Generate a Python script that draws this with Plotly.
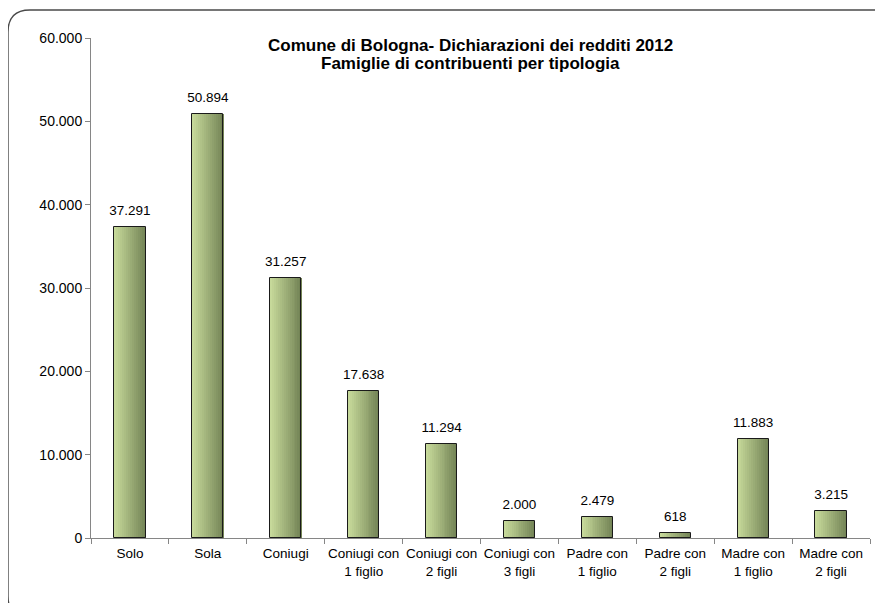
import plotly.graph_objects as go

categories = ["Solo", "Sola", "Coniugi", "Coniugi con<br>1 figlio", "Coniugi con<br>2 figli",
              "Coniugi con<br>3 figli", "Padre con<br>1 figlio", "Padre con<br>2 figli",
              "Madre con<br>1 figlio", "Madre con<br>2 figli"]
values = [37291, 50894, 31257, 17638, 11294, 2000, 2479, 618, 11883, 3215]
y_ticks = [0, 10000, 20000, 30000, 40000, 50000, 60000]
y_tick_labels = ["0", "10.000", "20.000", "30.000", "40.000", "50.000", "60.000"]
title_lines = ["Comune di Bologna- Dichiarazioni dei redditi 2012", "Famiglie di contribuenti per tipologia"]

OFF = 8  # page body margin
W, H = 883 - OFF, 603 - OFF
L, T = 91 - OFF, 38 - OFF
R = W - (870 - OFF)
B = H - (538 - OFF)
pw, ph = W - L - R, H - T - B

def px(xp):
    return (xp - OFF - L) / pw
def py(yp):
    return 1 - (yp - OFF - T) / ph

FONT = "Liberation Sans, Arial"
bar_w = 0.4
n_slices = 16
c0 = (198, 217, 154)
c1 = (116, 132, 86)

fig = go.Figure()
for k in range(n_slices):
    t = k / (n_slices - 1)
    col = "rgb(%d,%d,%d)" % tuple(round(a + (b - a) * t) for a, b in zip(c0, c1))
    fig.add_trace(go.Bar(
        x=categories, y=values,
        width=bar_w / n_slices + 0.003,
        offset=-bar_w / 2 + k * bar_w / n_slices,
        marker=dict(color=col, line=dict(width=0)),
        hoverinfo="skip", showlegend=False,
    ))

fig.add_trace(go.Bar(
    x=categories, y=values, width=bar_w, offset=-bar_w / 2,
    marker=dict(color="rgba(0,0,0,0)", line=dict(color="#1a1a1a", width=1)),
    showlegend=False,
))

labels = [f"{v:,}".replace(",", ".") for v in values]
fig.add_trace(go.Scatter(
    x=categories, y=values, mode="markers+text", text=labels,
    textposition="top center", cliponaxis=False,
    marker=dict(size=12, color="rgba(0,0,0,0)"),
    textfont=dict(family=FONT, size=13.5, color="#000000"),
    hoverinfo="skip", showlegend=False,
))

for line, yc in zip(title_lines, [45, 63]):
    fig.add_annotation(
        xref="paper", yref="paper", x=px(470), y=py(yc),
        xanchor="center", yanchor="middle", text="<b>" + line + "</b>",
        showarrow=False, font=dict(family=FONT, size=17, color="#000000"),
    )

x0b, y0b, x1b, y1b, r = 8, 10, 898, 618, 22
path = (f"M {px(x0b + r)},{py(y0b)} L {px(x1b - r)},{py(y0b)} "
        f"Q {px(x1b)},{py(y0b)} {px(x1b)},{py(y0b + r)} "
        f"L {px(x1b)},{py(y1b - r)} Q {px(x1b)},{py(y1b)} {px(x1b - r)},{py(y1b)} "
        f"L {px(x0b + r)},{py(y1b)} Q {px(x0b)},{py(y1b)} {px(x0b)},{py(y1b - r)} "
        f"L {px(x0b)},{py(y0b + r)} Q {px(x0b)},{py(y0b)} {px(x0b + r)},{py(y0b)} Z")
fig.add_shape(type="path", xref="paper", yref="paper", path=path,
              line=dict(color="#4a4a4a", width=1.4), layer="below")

fig.update_layout(
    width=W, height=H,
    margin=dict(l=L, r=R, t=T, b=B, autoexpand=False),
    barmode="overlay", bargap=0,
    plot_bgcolor="white", paper_bgcolor="white",
    font=dict(family=FONT, size=14, color="#000000"),
    showlegend=False,
)
fig.update_xaxes(
    type="category", showline=True, linecolor="#868686", linewidth=1,
    ticks="outside", tickson="boundaries", ticklen=5, tickcolor="#868686",
    showgrid=False, tickfont=dict(family=FONT, size=13.5), tickangle=0,
    ticklabelstandoff=3, range=[-0.5, 9.5],
)
fig.update_yaxes(
    range=[0, 60000], tickvals=y_ticks, ticktext=y_tick_labels,
    showline=True, linecolor="#868686", linewidth=1,
    ticks="outside", ticklen=5, tickcolor="#868686",
    showgrid=False, zeroline=False, tickfont=dict(family=FONT, size=14),
)

fig.write_html("out.html")
